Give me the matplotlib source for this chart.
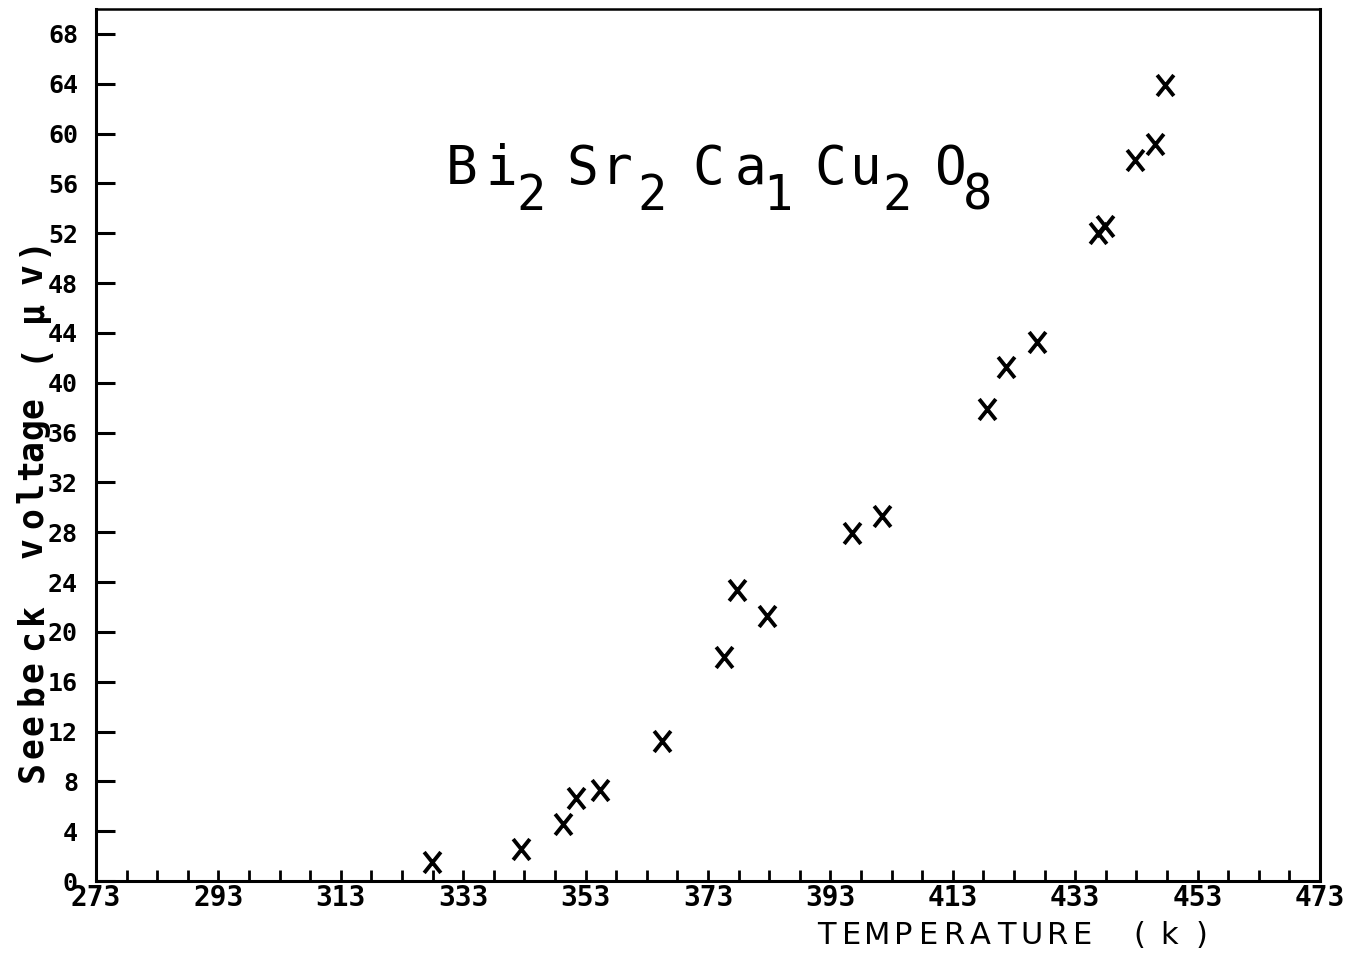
import numpy as np
import matplotlib
matplotlib.use("Agg")
import matplotlib.pyplot as plt
from matplotlib.path import Path
from matplotlib.ticker import FixedLocator
from matplotlib.font_manager import FontProperties

# Seebeck voltage of Bi2Sr2Ca1Cu2O8 versus temperature
temperature_k = [327.9, 342.4, 349.3, 351.4, 355.4, 365.5, 375.6, 377.7, 382.6,
                 396.5, 401.4, 418.6, 421.7, 426.8, 436.7, 437.9, 442.8, 446.0, 447.7]
seebeck_uv = [1.5, 2.6, 4.6, 6.7, 7.3, 11.2, 18.0, 23.4, 21.3,
              27.9, 29.3, 37.9, 41.3, 43.3, 52.0, 52.6, 57.9, 59.2, 63.9]

x_ticks = [273, 293, 313, 333, 353, 373, 393, 413, 433, 453, 473]
y_ticks = [0, 4, 8, 12, 16, 20, 24, 28, 32, 36, 40, 44, 48, 52, 56, 60, 64, 68]

W, H = 1348, 955
fig = plt.figure(figsize=(W / 100, H / 100), dpi=100)
ax = fig.add_axes([96 / W, 1 - 881 / H, (1320 - 96) / W, (881 - 9) / H])


def fx(px):
    return px / W


def fy(py):
    return 1 - py / H


# plotter-style "X" marks
xmark = Path([(-0.8, -1), (0.8, 1), (-0.8, 1), (0.8, -1)],
             [Path.MOVETO, Path.LINETO, Path.MOVETO, Path.LINETO])
ax.plot(temperature_k, seebeck_uv, linestyle="none", marker=xmark,
        markersize=15, markeredgewidth=2.8, color="black")

ax.set_xlim(273, 473)
ax.set_ylim(0, 70)

ax.xaxis.set_major_locator(FixedLocator(x_ticks))
ax.xaxis.set_minor_locator(FixedLocator(np.arange(x_ticks[0], x_ticks[-1] + 1, 5)))
ax.yaxis.set_major_locator(FixedLocator(y_ticks))
ax.set_xticklabels([str(t) for t in x_ticks])
ax.set_yticklabels([str(t) for t in y_ticks])

for lab in ax.get_xticklabels():
    lab.set_fontproperties(FontProperties(family="DejaVu Sans Mono",
                                          weight="bold", size=20))
for lab in ax.get_yticklabels():
    lab.set_fontproperties(FontProperties(family="DejaVu Sans Mono",
                                          weight="bold", size=18))

ax.tick_params(axis="x", which="both", direction="in", length=8, width=2,
               pad=2, top=False, color="black")
ax.tick_params(axis="y", which="major", direction="in", length=14, width=2.2,
               pad=13, right=False, color="black")

for side in ["left", "bottom", "right"]:
    ax.spines[side].set_linewidth(2.2)
ax.spines["top"].set_linewidth(1.8)

# vertical axis title, letter by letter on a plotter pitch
ylabel_chars = ["S", "e", "e", "b", "e", "c", "k",
                "v", "o", "l", "t", "a", "g", "e",
                "(", "μ", "v", ")"]
ylabel_y = [772, 748, 725, 695, 672, 640, 614,
            548, 518, 493, 470, 451, 429, 408,
            352, 312, 274, 246]
for ch, py in zip(ylabel_chars, ylabel_y):
    fig.text(fx(42), fy(py), ch, rotation=90, rotation_mode="anchor",
             ha="center", va="baseline", fontsize=25,
             family="DejaVu Sans Mono", weight="bold")

# horizontal axis title
xlabel_chars = list("TEMPERATURE") + ["(", "k", ")"]
xlabel_x = [826 + 25.7 * i for i in range(11)] + [1139, 1169, 1201]
for ch, px in zip(xlabel_chars, xlabel_x):
    fig.text(fx(px), fy(944), ch, ha="center", va="baseline",
             fontsize=22, family="DejaVu Sans")

# chemical formula with dropped subscripts
formula = [("B", 462, 184), ("i", 501, 184), ("2", 531, 210),
           ("S", 582, 184), ("r", 617, 184), ("2", 652, 210),
           ("C", 708, 184), ("a", 751, 184), ("1", 778, 210),
           ("C", 830, 184), ("u", 866, 184), ("2", 897, 210),
           ("O", 951, 184), ("8", 977, 210)]
for ch, px, py in formula:
    size = 38 if py < 200 else 35
    fig.text(fx(px), fy(py), ch, ha="center", va="baseline",
             fontsize=size, family="DejaVu Sans Mono")

fig.savefig("out.png", dpi=100, facecolor="white")
